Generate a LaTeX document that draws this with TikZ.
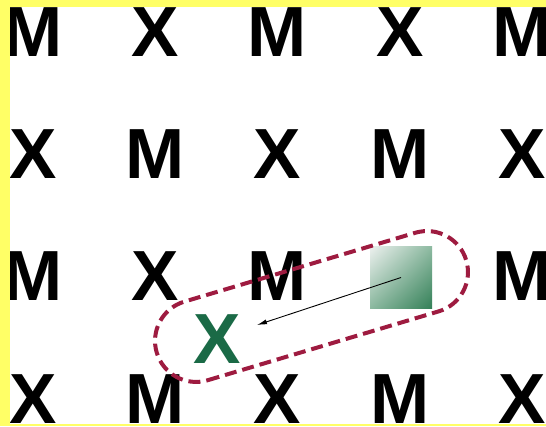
\documentclass[tikz,border=0pt]{standalone}
\usepackage{fontspec}
\setmainfont{Liberation Sans}
\usetikzlibrary{arrows.meta,shadings}
\definecolor{bandyellow}{RGB}{255,255,102}
\definecolor{loopred}{RGB}{158,27,64}
\definecolor{markgreen}{RGB}{26,106,70}
\definecolor{tilegreen}{RGB}{52,128,88}
\definecolor{tilemid}{RGB}{140,185,160}
\definecolor{tilelight}{RGB}{236,240,238}
\tikzset{
  glyph/.style={anchor=base, inner sep=0pt, font=\fontsize{71}{80}\selectfont\bfseries},
  loop/.style={draw=loopred, line width=4pt, dash pattern=on 12pt off 6pt},
  pointer/.style={draw=black, line width=0.9pt, -{Latex[length=10pt,width=5pt]}}
}
\begin{document}
\begin{tikzpicture}[x=1pt,y=1pt]
  \useasboundingbox (0,0) rectangle (546,426);
  \clip (0,0) rectangle (546,426);
  \fill[white] (0,0) rectangle (546,426);

  % letter grid: columns 33..522, baselines at 369, 247, 125, 3
  \foreach \c/\x in {1/33,2/155,3/277,4/400,5/522}{
    \pgfmathtruncatemacro{\odd}{mod(\c,2)}
    \ifnum\odd=1
      \node[glyph] (r1c\c) at (\x,369) {M};
      \node[glyph] (r2c\c) at (\x,247) {X};
      \ifnum\c=4\else\node[glyph] (r3c\c) at (\x,125) {M};\fi
      \node[glyph] (r4c\c) at (\x,3) {X};
    \else
      \node[glyph] (r1c\c) at (\x,369) {X};
      \node[glyph] (r2c\c) at (\x,247) {M};
      \ifnum\c=4\else\node[glyph] (r3c\c) at (\x,125) {X};\fi
      \node[glyph] (r4c\c) at (\x,3) {M};
    \fi
  }

  % shaded tile in place of the missing letter
  \shade[upper left=tilelight, upper right=tilemid, lower left=tilemid, lower right=tilegreen]
    (370,118) rectangle (432,179);
  \node[inner sep=0pt, minimum width=62pt, minimum height=61pt] (tile) at (401,148.5) {};

  % the green X
  \node[glyph, text=markgreen] (gx) at (217.5,63) {X};

  % dashed loop around tile and green X
  \begin{scope}[shift={(311.5,119.5)}, rotate=16.6]
    \draw[loop] (-120.5,-41) -- (120.5,-41) arc(-90:90:41) -- (-120.5,41) arc(90:270:41) -- cycle;
  \end{scope}

  % pointer from tile to green X
  \coordinate (tip) at (257,101);
  \draw[pointer] (tile.center) -- (tip);

  % yellow frame strips
  \fill[bandyellow] (0,419) rectangle (546,426);
  \fill[bandyellow] (0,0) rectangle (10,426);
  \fill[bandyellow] (0,0) rectangle (546,2);
\end{tikzpicture}
\end{document}
